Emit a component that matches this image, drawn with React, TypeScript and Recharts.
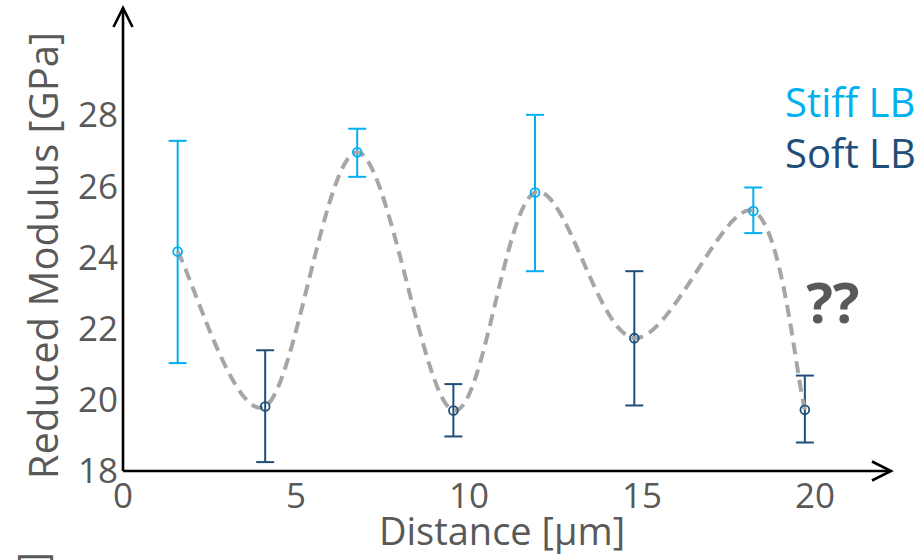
import {
  ComposedChart, Scatter, Line, ErrorBar, XAxis, YAxis, ReferenceLine,
  ReferenceDot, Legend,
} from 'recharts'

// Office-style palette
const STIFF_COLOR = '#00B0F0'
const SOFT_COLOR  = '#1F4E79'
const CURVE_COLOR = '#A6A6A6'
const TEXT_COLOR  = '#595959'
const AXIS_COLOR  = '#000000'
const FONT = "'Open Sans', 'Noto Sans', sans-serif"

// Stiff LB measurements
const stiffX    = [1.58, 6.77, 11.91, 18.22]
const stiffMean = [24.16, 26.95, 25.82, 25.30]
const stiffLow  = [21.03, 26.26, 23.61, 24.68]
const stiffHigh = [27.27, 27.61, 28.0, 25.96]

// Soft LB measurements
const softX    = [4.11, 9.55, 14.78, 19.71]
const softMean = [19.81, 19.70, 21.73, 19.72]
const softLow  = [18.25, 18.97, 19.84, 18.80]
const softHigh = [21.39, 20.44, 23.61, 20.68]

const xTicks = [0, 5, 10, 15, 20]
const yTicks = [18, 20, 22, 24, 26, 28]
const X_DOMAIN: [number, number] = [0, 22.2]
const Y_DOMAIN: [number, number] = [18, 31]

// where the "??" note sits, in data units
const NOTE_X = 20.52
const NOTE_Y = 22.16

const toPoints = (xs: number[], ys: number[], lo: number[], hi: number[]) =>
  xs.map((x, i) => ({ x, y: ys[i], err: [ys[i] - lo[i], hi[i] - ys[i]] }))

const stiffData = toPoints(stiffX, stiffMean, stiffLow, stiffHigh)
const softData  = toPoints(softX, softMean, softLow, softHigh)
const curveData = [...stiffData, ...softData]
  .map(({ x, y }) => ({ x, y }))
  .sort((a, b) => a.x - b.x)

// Excel-like smoothed line (Catmull-Rom as cubic beziers), fed to recharts as a curve factory
const smoothCurve = (context: any) => {
  let pts: [number, number][] = []
  return {
    areaStart() {},
    areaEnd() {},
    lineStart() { pts = [] },
    point(x: number, y: number) { pts.push([+x, +y]) },
    lineEnd() {
      const n = pts.length
      if (!n) return
      context.moveTo(pts[0][0], pts[0][1])
      for (let i = 0; i < n - 1; i++) {
        const p0 = pts[Math.max(i - 1, 0)]
        const p1 = pts[i]
        const p2 = pts[i + 1]
        const p3 = pts[Math.min(i + 2, n - 1)]
        context.bezierCurveTo(
          p1[0] + (p2[0] - p0[0]) / 6, p1[1] + (p2[1] - p0[1]) / 6,
          p2[0] - (p3[0] - p1[0]) / 6, p2[1] - (p3[1] - p1[1]) / 6,
          p2[0], p2[1],
        )
      }
    },
  }
}

function OpenCircle(color: string) {
  return (p: any) => (
    <circle cx={p.cx} cy={p.cy} r={4.4} fill="none" stroke={color} strokeWidth={1.8} />
  )
}

// axis line with an open chevron at its far end
function ArrowAxis(p: any) {
  const { x1, y1, x2, y2 } = p
  const len = Math.hypot(x2 - x1, y2 - y1) || 1
  const ux = (x2 - x1) / len, uy = (y2 - y1) / len
  const L = 19, W = 9.5
  const bx = x2 - ux * L, by = y2 - uy * L
  return (
    <g fill="none" stroke={AXIS_COLOR} strokeWidth={2.6}>
      <line x1={x1} y1={y1} x2={x2} y2={y2} />
      <polyline
        points={`${bx - uy * W},${by + ux * W} ${x2},${y2} ${bx + uy * W},${by - ux * W}`}
        strokeLinejoin="miter"
      />
    </g>
  )
}

function YTitle({ viewBox }: any) {
  const cx = viewBox.x + 58
  const cy = viewBox.y + viewBox.height / 2 + 16
  return (
    <g fontFamily={FONT} fill={TEXT_COLOR}>
      <text x={cx} y={cy} fontSize={40} textAnchor="middle" transform={`rotate(-90 ${cx} ${cy})`}>
        Reduced Modulus [GPa]
      </text>
      {/* cut-off bracket of a neighbouring label */}
      <text x={47} y={552} fontSize={40} textAnchor="end" transform="rotate(-90 47 552)">
        ]
      </text>
    </g>
  )
}

function XTitle({ viewBox }: any) {
  return (
    <text
      x={viewBox.x + viewBox.width / 2 - 5}
      y={545}
      fontSize={38}
      textAnchor="middle"
      fontFamily={FONT}
      fill={TEXT_COLOR}
    >
      Distance [μm]
    </text>
  )
}

function LegendText() {
  return (
    <div style={{ fontFamily: FONT, fontSize: 40, lineHeight: '51px', whiteSpace: 'nowrap' }}>
      <div style={{ color: STIFF_COLOR }}>Stiff LB</div>
      <div style={{ color: SOFT_COLOR }}>Soft LB</div>
    </div>
  )
}

export default function App() {
  return (
    <div style={{ position: 'absolute', left: 0, top: 0, width: 923, height: 560, background: '#fff' }}>
      <ComposedChart width={923} height={560} margin={{ top: 8, right: 32, bottom: 0, left: 0 }}>
        <XAxis
          dataKey="x"
          type="number"
          domain={X_DOMAIN}
          ticks={xTicks}
          interval={0}
          axisLine={false}
          tickLine={false}
          tickSize={0}
          tickMargin={12}
          height={89}
          tick={{ fill: TEXT_COLOR, fontSize: 35, fontFamily: FONT }}
          label={<XTitle />}
        />
        <YAxis
          type="number"
          domain={Y_DOMAIN}
          ticks={yTicks}
          interval={0}
          axisLine={false}
          tickLine={false}
          tickSize={0}
          tickMargin={5}
          width={123}
          tick={{ fill: TEXT_COLOR, fontSize: 35, fontFamily: FONT }}
          label={<YTitle />}
        />
        <ReferenceLine
          segment={[{ x: X_DOMAIN[0], y: Y_DOMAIN[0] }, { x: X_DOMAIN[1], y: Y_DOMAIN[0] }]}
          shape={ArrowAxis}
        />
        <ReferenceLine
          segment={[{ x: X_DOMAIN[0], y: Y_DOMAIN[0] }, { x: X_DOMAIN[0], y: Y_DOMAIN[1] }]}
          shape={ArrowAxis}
        />
        <Scatter name="Stiff LB" data={stiffData} dataKey="y" shape={OpenCircle(STIFF_COLOR)} isAnimationActive={false}>
          <ErrorBar dataKey="err" direction="y" width={9} stroke={STIFF_COLOR} strokeWidth={2} />
        </Scatter>
        <Scatter name="Soft LB" data={softData} dataKey="y" shape={OpenCircle(SOFT_COLOR)} isAnimationActive={false}>
          <ErrorBar dataKey="err" direction="y" width={9} stroke={SOFT_COLOR} strokeWidth={2} />
        </Scatter>
        <Line
          data={curveData}
          dataKey="y"
          type={smoothCurve as any}
          stroke={CURVE_COLOR}
          strokeWidth={4}
          strokeDasharray="12 7"
          dot={false}
          activeDot={false}
          legendType="none"
          isAnimationActive={false}
        />
        <ReferenceDot
          x={NOTE_X}
          y={NOTE_Y}
          r={0}
          shape={(p: any) => (
            <text x={p.cx} y={p.cy} textAnchor="middle" fontSize={56} fontWeight={700}
              fontFamily={FONT} fill={TEXT_COLOR}>
              ??
            </text>
          )}
        />
        <Legend
          layout="vertical"
          align="center"
          verticalAlign="middle"
          content={<LegendText />}
          wrapperStyle={{ left: 785, top: 76, width: 'auto', height: 'auto' }}
        />
      </ComposedChart>
    </div>
  )
}
